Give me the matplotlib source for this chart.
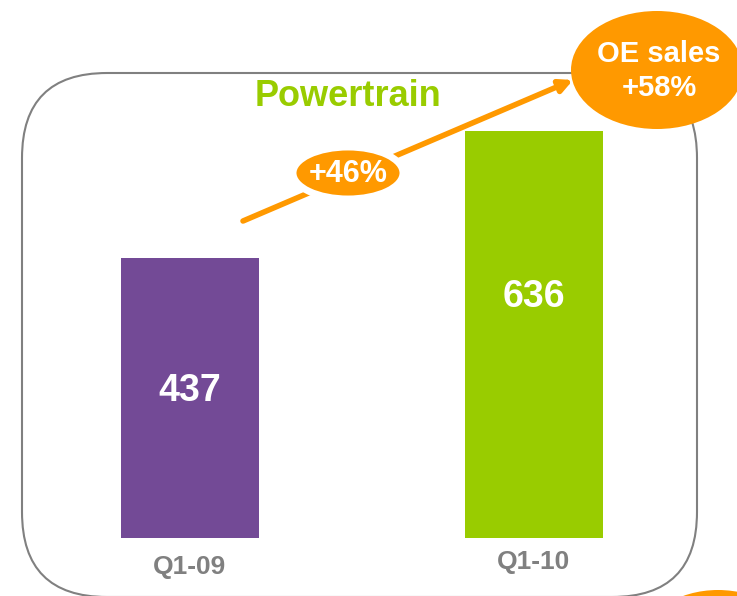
import matplotlib
matplotlib.use("Agg")
import matplotlib.pyplot as plt
from matplotlib.patches import Ellipse, FancyBboxPatch, FancyArrowPatch

plt.rcParams['font.family'] = ['Liberation Sans', 'DejaVu Sans']
plt.rcParams['font.weight'] = 'bold'

# data
quarters = ["Q1-09", "Q1-10"]
sales = [437, 636]
bar_colors = ["#734A96", "#99CC00"]
title = "Powertrain"
growth_label = "+46%"
oe_label = "OE sales\n+58%"

ORANGE = "#FF9900"
GREY = "#808080"

W, H = 737, 596
fig = plt.figure(figsize=(W / 100, H / 100), dpi=100, facecolor="white")

# overlay axes in pixel coordinates for the decorations
deco = fig.add_axes([0, 0, 1, 1], zorder=0)
deco.set_xlim(0, W)
deco.set_ylim(H, 0)
deco.axis("off")

box = FancyBboxPatch((22, 73), 675, 524, boxstyle="round,pad=0,rounding_size=85",
                     facecolor="none", edgecolor=GREY, linewidth=1.5)
deco.add_patch(box)

deco.text(348, 97, title, color="#99CC00", fontsize=26, ha="center", va="center")

# growth arrow
arrow = FancyArrowPatch((243, 221), (573, 80), arrowstyle="-|>", mutation_scale=19,
                        color=ORANGE, linewidth=4, shrinkA=0, shrinkB=0)
deco.add_patch(arrow)

deco.add_patch(Ellipse((348, 173), 110, 52, facecolor=ORANGE, edgecolor="white", linewidth=5))
deco.text(348, 174, growth_label, color="white", fontsize=22, ha="center", va="center")

deco.add_patch(Ellipse((657, 70), 172, 118, facecolor=ORANGE, edgecolor="none"))
deco.text(659, 71, oe_label, color="white", fontsize=21, ha="center", va="center",
          linespacing=1.25)

# partial bubble at the lower right corner
deco.add_patch(Ellipse((718, 642), 150, 104, facecolor=ORANGE, edgecolor="none"))

# bar axes: y=0 at pixel 538, 0.6405 px per unit
px_per_unit = 0.6405
ymax = 800
x0 = -(190 - 22) / 344
x1 = (697 - 190) / 344
ax = fig.add_axes([22 / W, (H - 538) / H, (697 - 22) / W, ymax * px_per_unit / H], zorder=1)
ax.patch.set_alpha(0)
ax.set_xlim(x0, x1)
ax.set_ylim(0, ymax)
ax.axis("off")

xs = list(range(len(quarters)))
ax.bar(xs, sales, width=0.40, color=bar_colors)

label_heights = [230, 376]
for x, v, h in zip(xs, sales, label_heights):
    ax.text(x, h, str(v), color="white", fontsize=27, ha="center", va="center")

tick_heights = [-45, -37]
for x, q, h in zip(xs, quarters, tick_heights):
    ax.text(x, h, q, color=GREY, fontsize=19, ha="center", va="center", clip_on=False)

fig.savefig("out.png", dpi=100, facecolor="white")
